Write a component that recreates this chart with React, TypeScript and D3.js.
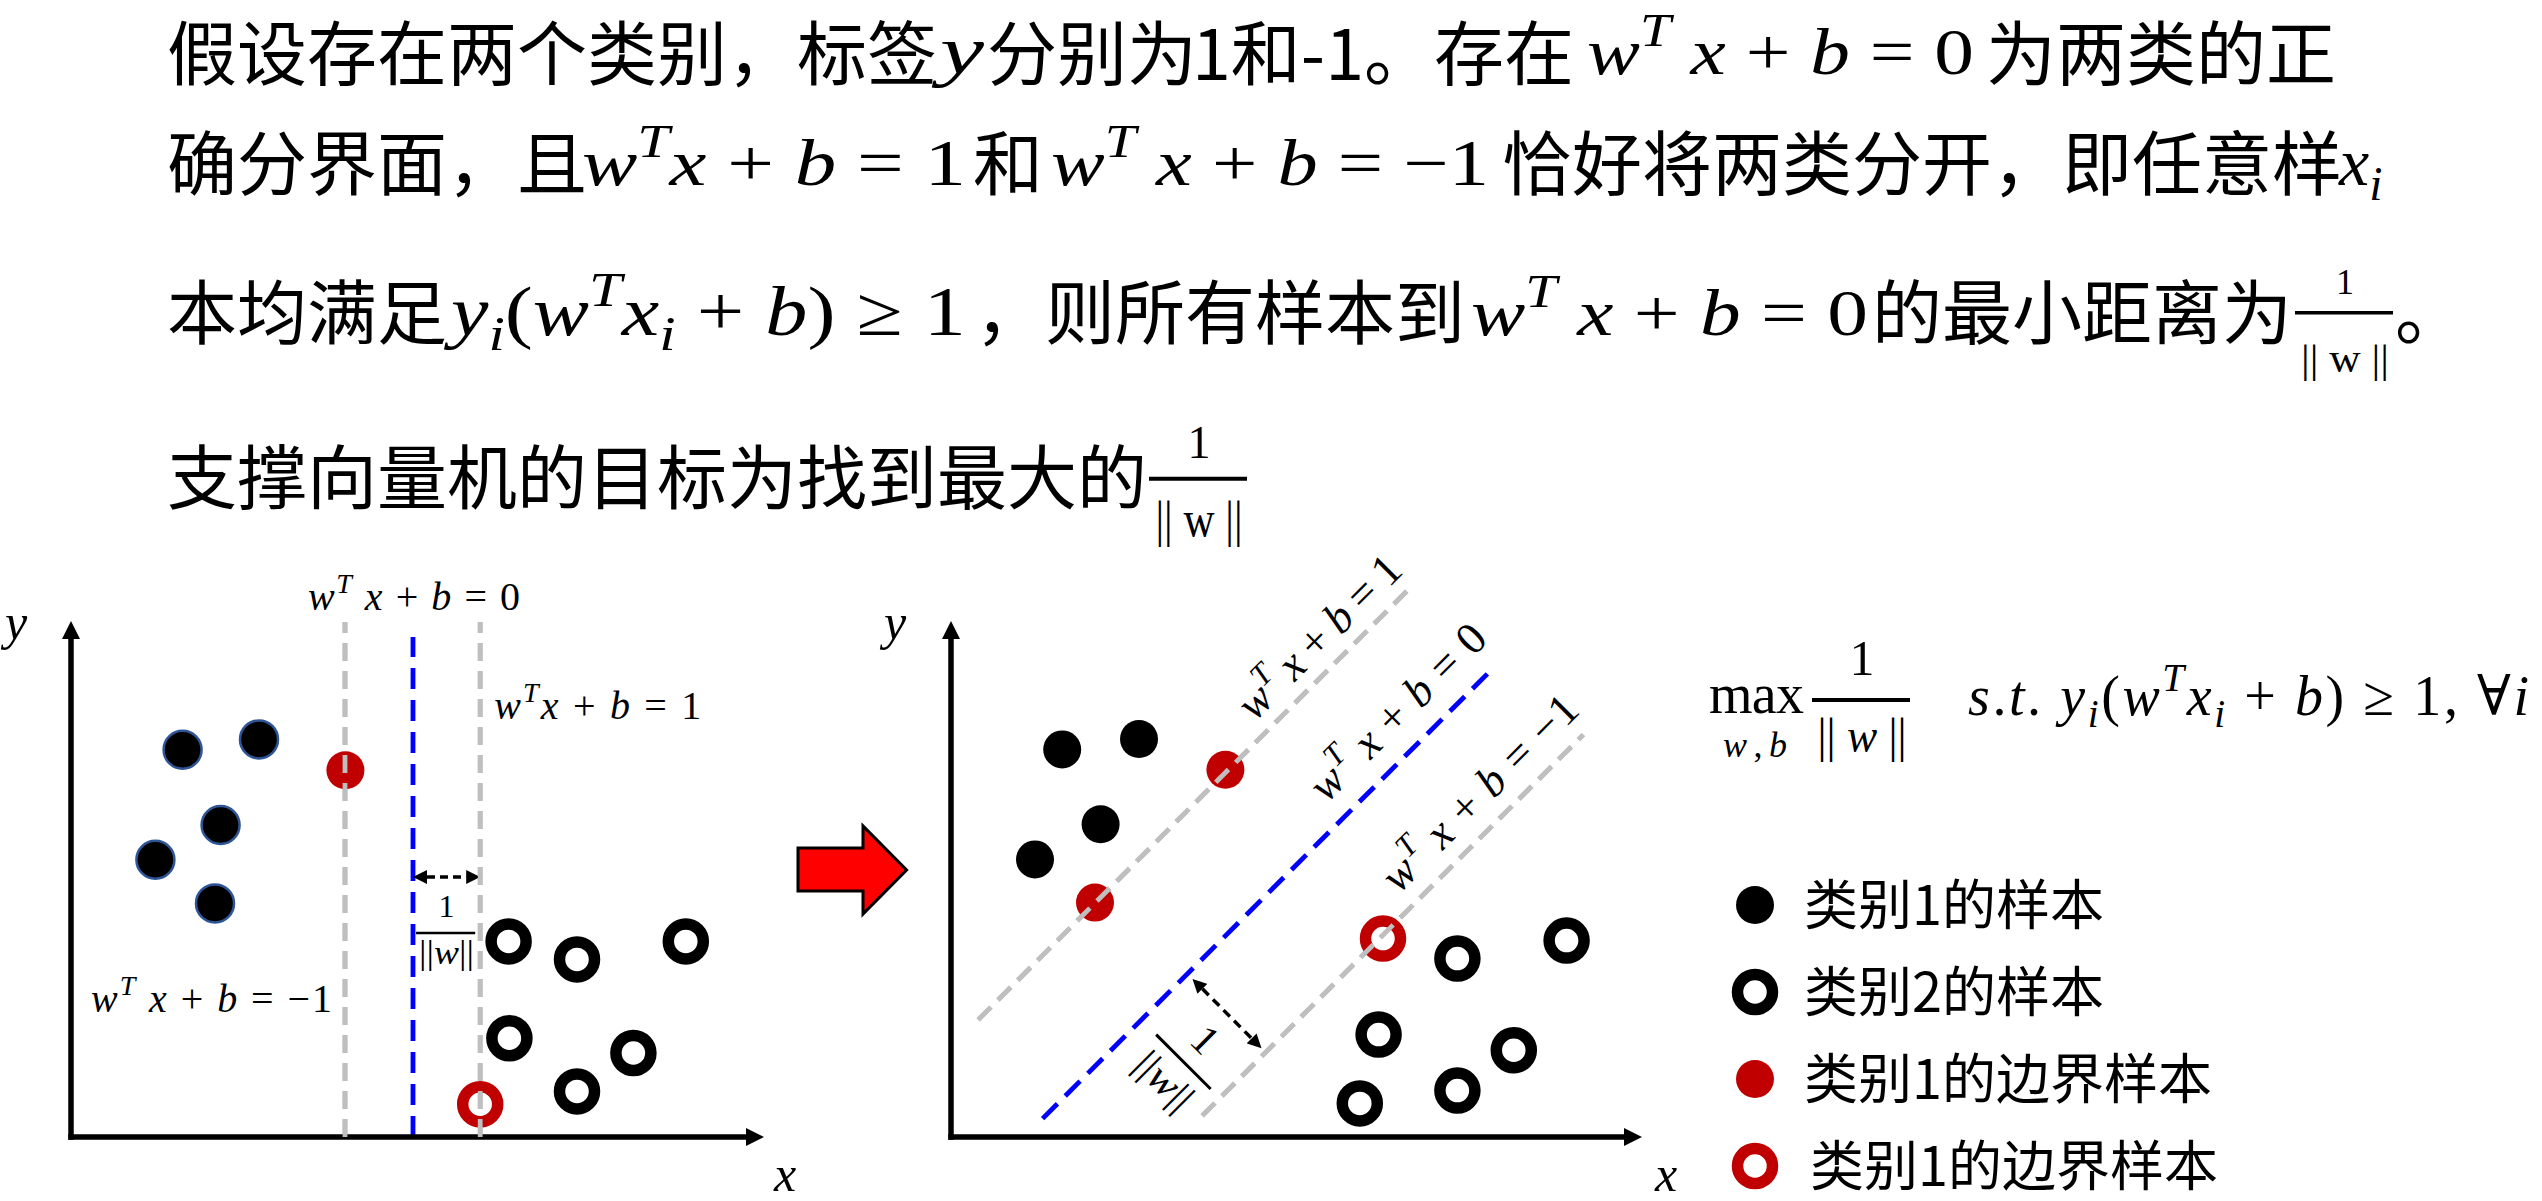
import * as d3 from 'd3';

const W = 2542;
const H = 1201;

// ---- sample points, in plot units (same units for both panels) ----
const class1Left = [[2.79, 9.68], [4.7, 9.94], [3.74, 7.8], [2.11, 6.93], [3.6, 5.84]];
const class1EdgeLeft = [[6.86, 9.17]];
const class2Left = [[10.94, 4.89], [12.65, 4.44], [15.37, 4.89], [10.96, 2.47], [14.06, 2.1], [12.65, 1.14]];
const class2EdgeLeft = [[10.23, 0.82]];

const class1Right = [[2.78, 9.69], [4.7, 9.95], [3.74, 7.82], [2.1, 6.94]];
const class1EdgeRight = [[6.86, 9.18], [3.6, 5.86]];
const class2Right = [[15.39, 4.91], [12.66, 4.46], [10.69, 2.56], [14.07, 2.17], [12.66, 1.16], [10.22, 0.84]];
const class2EdgeRight = [[10.8, 4.96]];

// left panel: vertical planes  x = value, level = w^T x + b
const planeLevelsLeft = [-1, 0, 1];
const planeXLeft = [6.85, 8.55, 10.23];
const planeTopLeft = [12.875, 12.5, 12.875];

// right panel: diagonal planes  y = x + k, drawn from x0 to x1
const planeLevelsRight = [1, 0, -1];
const planeKRight = [2.25, -1.83, -5.75];
const planeX0Right = [0.68, 2.29, 6.28];
const planeX1Right = [11.44, 13.6, 15.81];
const planeLabelRight = [[9.22, 12.49], [11.18, 10.61], [13.23, 8.59]];

// margin arrows
const marginLeft = { y: 6.5, from: 8.55, to: 10.23 };
const marginRight = [[6.02, 3.97], [7.78, 2.2]];
const marginFracRight = [5.81, 1.88];

const legendLabels = ['类别1的样本', '类别2的样本', '类别1的边界样本', '类别1的边界样本'];
const legendKinds = ['c1', 'c2', 'c1e', 'c2e'];

const CJK = '"Noto Sans CJK SC", "Noto Sans", sans-serif';
const SERIF = '"Liberation Serif", "DejaVu Serif", serif';
const GRAY = '#BFBFBF';
const BLUE = '#0000FF';
const RED = '#C00000';

type Part = { t: string; it: boolean; pos?: 'sup' | 'sub' };

function parse(src: string, upright = false): Part[] {
  const out: Part[] = [];
  for (let i = 0; i < src.length; i++) {
    const c = src[i];
    if ((c === '^' || c === '_') && i + 1 < src.length) {
      out.push({ t: src[i + 1], it: /[a-zA-Z]/.test(src[i + 1]), pos: c === '^' ? 'sup' : 'sub' });
      i++;
    } else {
      out.push({ t: c, it: !upright && /[a-zA-Z]/.test(c) });
    }
  }
  return out;
}

function Formula({ src, x, y, len, size, anchor = 'start', upright = false, transform, stretch = false }: any) {
  const parts = parse(src, upright);
  let shift = 0;
  return (
    <text x={x} y={y} fontSize={size} fontFamily={SERIF} textAnchor={anchor} textLength={len}
      lengthAdjust={stretch ? 'spacingAndGlyphs' : 'spacing'} transform={transform} fill="#000"
      style={{ whiteSpace: 'pre' }}>
      {parts.map((p, i) => {
        const target = p.pos === 'sup' ? -0.42 * size : p.pos === 'sub' ? 0.22 * size : 0;
        const dy = target - shift;
        shift = target;
        return (
          <tspan key={i} dy={dy || undefined} fontStyle={p.it ? 'italic' : 'normal'}
            fontSize={p.pos ? size * 0.7 : undefined}>{p.t}</tspan>
        );
      })}
    </text>
  );
}

function Cjk({ x, y, t, size = 70 }: any) {
  return <text x={x} y={y} fontSize={size} fontFamily={CJK} fill="#000">{t}</text>;
}

function Frac({ cx, x1, x2, barY, bar = 3.5, num, numY, numSize, den, denY, denSize, denLen, upright = false }: any) {
  return (
    <g>
      <Formula src={num} x={cx} y={numY} size={numSize} anchor="middle" upright />
      <line x1={x1} x2={x2} y1={barY} y2={barY} stroke="#000" strokeWidth={bar} />
      <Formula src={den} x={cx} y={denY} size={denSize} anchor="middle" len={denLen} upright={upright} stretch />
    </g>
  );
}

function Dot({ cx, cy, kind, outline }: any) {
  if (kind === 'c1') return <circle cx={cx} cy={cy} r={19} fill="#000" stroke={outline ? '#2F5597' : 'none'} strokeWidth={2.5} />;
  if (kind === 'c1e') return <circle cx={cx} cy={cy} r={19} fill={RED} />;
  if (kind === 'c2') return <circle cx={cx} cy={cy} r={17.5} fill="none" stroke="#000" strokeWidth={11.5} />;
  return <circle cx={cx} cy={cy} r={17.5} fill="none" stroke={RED} strokeWidth={11.5} />;
}

const levelColor = (lv: number) => (lv === 0 ? BLUE : GRAY);
const levelDash = (lv: number) => (lv === 0 ? '21 11' : '18 10');
const levelText = (lv: number) => (lv === 0 ? '0' : lv === 1 ? '1' : '−1');

function shorten(p: number[], q: number[], a: number, b: number) {
  const dx = q[0] - p[0];
  const dy = q[1] - p[1];
  const L = Math.hypot(dx, dy);
  return [p[0] + (dx * a) / L, p[1] + (dy * a) / L, q[0] - (dx * b) / L, q[1] - (dy * b) / L];
}

function Axes({ x, y, xMax, yMax, yLabelX, xLabelX }: any) {
  const ox = x(0);
  const oy = y(0);
  return (
    <g>
      <line x1={ox} y1={oy + 2.75} x2={ox} y2={y(yMax) + 17} stroke="#000" strokeWidth={5.5} markerEnd="url(#axisHead)" />
      <line x1={ox - 2.75} y1={oy} x2={x(xMax) - 17} y2={oy} stroke="#000" strokeWidth={5.5} markerEnd="url(#axisHead)" />
      <text x={yLabelX} y={y(yMax) + 17} fontFamily={SERIF} fontStyle="italic" fontSize={50}>y</text>
      <text x={xLabelX} y={1191} fontFamily={SERIF} fontStyle="italic" fontSize={50}>x</text>
    </g>
  );
}

export default function App() {
  const yS = d3.scaleLinear().domain([0, 12.875]).range([1137, 622]);
  const xL = d3.scaleLinear().domain([0, 17.3]).range([71, 763]);
  const xR = d3.scaleLinear().domain([0, 17.25]).range([951, 1641]);
  const legendY = d3.scalePoint<number>().domain(d3.range(legendLabels.length)).range([905, 1166]);

  const la = shorten([xL(marginLeft.from), yS(marginLeft.y)], [xL(marginLeft.to), yS(marginLeft.y)], 14, 14);
  const ra = shorten([xR(marginRight[0][0]), yS(marginRight[0][1])], [xR(marginRight[1][0]), yS(marginRight[1][1])], 15, 15);
  const fx = xR(marginFracRight[0]);
  const fy = yS(marginFracRight[1]);
  const labelLens = [212, 230, 258];

  return (
    <svg width={W} height={H} viewBox={`0 0 ${W} ${H}`}
      style={{ position: 'absolute', left: 0, top: 0, display: 'block', background: '#fff' }}>
      <defs>
        <marker id="axisHead" viewBox="0 0 10 10" refX={0} refY={5} markerUnits="userSpaceOnUse"
          markerWidth={18} markerHeight={19} orient="auto">
          <path d="M0,0 L10,5 L0,10 z" fill="#000" />
        </marker>
        <marker id="smallHead" viewBox="0 0 10 10" refX={0} refY={5} markerUnits="userSpaceOnUse"
          markerWidth={15} markerHeight={14} orient="auto-start-reverse">
          <path d="M0,0 L10,5 L0,10 z" fill="#000" />
        </marker>
      </defs>
      <rect width={W} height={H} fill="#fff" />

      {/* ---- paragraph ---- */}
      <Cjk x={167} y={80} t="假设存在两个类别，标签" />
      <Formula src="y" x={940} y={74} size={68} len={44} stretch />
      <Cjk x={987} y={80} t="分别为" />
      <Cjk x={1192} y={80} t="1和-1。存在" />
      <Formula src="w^T x + b = 0" x={1587} y={74} size={66} len={387} stretch />
      <Cjk x={1986} y={80} t="为两类的正" />

      <Cjk x={167} y={190} t="确分界面，且" />
      <Formula src="w^Tx + b = 1" x={582} y={185} size={66} len={384} stretch />
      <Cjk x={973} y={190} t="和" />
      <Formula src="w^T x + b = −1" x={1051} y={185} size={66} len={438} stretch />
      <Cjk x={1502} y={190} t="恰好将两类分开，即任意样" />
      <Formula src="x_i" x={2339} y={185} size={68} />

      <Cjk x={167} y={339} t="本均满足" />
      <Formula src="y_i(w^Tx_i + b) ≥ 1" x={451} y={335} size={70} len={515} stretch />
      <Cjk x={975} y={339} t="，则所有样本到" />
      <Formula src="w^T x + b = 0" x={1471} y={335} size={66} len={397} stretch />
      <Cjk x={1872} y={339} t="的最小距离为" />
      <Frac cx={2345} x1={2295} x2={2393} barY={312.7} num="1" numY={294} numSize={36}
        den="|| w ||" denY={372} denSize={40} denLen={88} upright />
      <Cjk x={2395} y={339} t="。" />

      <Cjk x={167} y={504} t="支撑向量机的目标为找到最大的" />
      <Frac cx={1199} x1={1149} x2={1247} barY={478.7} bar={4} num="1" numY={458} numSize={46}
        den="|| w ||" denY={536} denSize={50} denLen={87} upright />

      {/* ---- left panel ---- */}
      {planeLevelsLeft.map((lv, i) => (
        <line key={i} x1={xL(planeXLeft[i])} x2={xL(planeXLeft[i])} y1={yS(0)} y2={yS(planeTopLeft[i])}
          stroke={levelColor(lv)} strokeWidth={4.8} strokeDasharray={levelDash(lv)} />
      ))}
      <Axes x={xL} y={yS} xMax={17.3} yMax={12.875} yLabelX={5} xLabelX={774} />
      <Formula src="w^T x + b = 0" x={xL(planeXLeft[1]) + 1} y={610} size={40} len={212} anchor="middle" />
      <Formula src="w^Tx + b = 1" x={xL(planeXLeft[2]) + 14} y={719} size={40} len={207} />
      <Formula src="w^T x + b = −1" x={xL(planeXLeft[0]) - 13} y={1012} size={40} len={241} anchor="end" />
      <line x1={la[0]} y1={la[1]} x2={la[2]} y2={la[3]} stroke="#000" strokeWidth={3.5} strokeDasharray="8 5"
        markerStart="url(#smallHead)" markerEnd="url(#smallHead)" />
      <Frac cx={(xL(marginLeft.from) + xL(marginLeft.to)) / 2} x1={xL(marginLeft.from) + 3} x2={xL(marginLeft.to) - 5}
        barY={933} bar={2.5} num="1" numY={917} numSize={32} den="||w||" denY={964} denSize={33} denLen={55} />
      {class1Left.map((d, i) => <Dot key={'a' + i} cx={xL(d[0])} cy={yS(d[1])} kind="c1" outline />)}
      {class1EdgeLeft.map((d, i) => <Dot key={'b' + i} cx={xL(d[0])} cy={yS(d[1])} kind="c1e" />)}
      {class2Left.map((d, i) => <Dot key={'c' + i} cx={xL(d[0])} cy={yS(d[1])} kind="c2" />)}
      {class2EdgeLeft.map((d, i) => <Dot key={'d' + i} cx={xL(d[0])} cy={yS(d[1])} kind="c2e" />)}
      {/* the gray dashed planes run over the edge samples */}
      {planeLevelsLeft.map((lv, i) => (lv === 0 ? null : (
        <line key={'p' + i} x1={xL(planeXLeft[i])} x2={xL(planeXLeft[i])} y1={yS(0)} y2={yS(planeTopLeft[i])}
          stroke={GRAY} strokeWidth={4.8} strokeDasharray={levelDash(lv)} />
      )))}

      {/* ---- arrow between panels ---- */}
      <polygon points="798,848 863,848 863,826 906.6,870 863,914 863,891 798,891"
        fill="#FF0000" stroke="#000" strokeWidth={3} strokeLinejoin="miter" />

      {/* ---- right panel ---- */}
      {planeLevelsRight.map((lv, i) => (
        <line key={i} x1={xR(planeX0Right[i])} y1={yS(planeX0Right[i] + planeKRight[i])}
          x2={xR(planeX1Right[i])} y2={yS(planeX1Right[i] + planeKRight[i])}
          stroke={levelColor(lv)} strokeWidth={4.8} strokeDasharray={levelDash(lv)} />
      ))}
      <Axes x={xR} y={yS} xMax={17.25} yMax={12.875} yLabelX={884} xLabelX={1655} />
      {planeLevelsRight.map((lv, i) => {
        const cx = xR(planeLabelRight[i][0]);
        const cy = yS(planeLabelRight[i][1]);
        return (
          <Formula key={i} src={`w^T x + b = ${levelText(lv)}`} x={0} y={14} size={45} len={labelLens[i]}
            anchor="middle" transform={`translate(${cx},${cy}) rotate(-45)`} />
        );
      })}
      <line x1={ra[0]} y1={ra[1]} x2={ra[2]} y2={ra[3]} stroke="#000" strokeWidth={3.5} strokeDasharray="9 6"
        markerStart="url(#smallHead)" markerEnd="url(#smallHead)" />
      <g transform={`translate(${fx},${fy}) rotate(45)`}>
        <Frac cx={0} x1={-38.5} x2={38.5} barY={0} bar={3} num="1" numY={-17} numSize={42}
          den="||w||" denY={40} denSize={40} denLen={66} />
      </g>
      {class1Right.map((d, i) => <Dot key={'e' + i} cx={xR(d[0])} cy={yS(d[1])} kind="c1" />)}
      {class1EdgeRight.map((d, i) => <Dot key={'f' + i} cx={xR(d[0])} cy={yS(d[1])} kind="c1e" />)}
      {class2Right.map((d, i) => <Dot key={'g' + i} cx={xR(d[0])} cy={yS(d[1])} kind="c2" />)}
      {class2EdgeRight.map((d, i) => <Dot key={'h' + i} cx={xR(d[0])} cy={yS(d[1])} kind="c2e" />)}
      {planeLevelsRight.map((lv, i) => (lv === 0 ? null : (
        <line key={'o' + i} x1={xR(planeX0Right[i])} y1={yS(planeX0Right[i] + planeKRight[i])}
          x2={xR(planeX1Right[i])} y2={yS(planeX1Right[i] + planeKRight[i])}
          stroke={GRAY} strokeWidth={4.8} strokeDasharray={levelDash(lv)} />
      )))}

      {/* ---- objective ---- */}
      <Formula src="max" x={1709} y={713} size={56} len={95} upright />
      <Formula src="w,b" x={1723} y={757} size={36} len={64} />
      <Frac cx={1862} x1={1812} x2={1910} barY={700} bar={4} num="1" numY={675} numSize={50}
        den="|| w ||" denY={752} denSize={48} denLen={89} />
      <Formula src="s.t. y_i(w^Tx_i + b) ≥ 1, ∀i" x={1968} y={715} size={56} len={561} />

      {/* ---- legend ---- */}
      {legendLabels.map((lab, i) => (
        <g key={i}>
          <Dot cx={1755} cy={legendY(i)} kind={legendKinds[i]} />
          <text x={i === 3 ? 1810 : 1804} y={(legendY(i) as number) + 20} fontFamily={CJK} fontSize={54}>{lab}</text>
        </g>
      ))}
    </svg>
  );
}
